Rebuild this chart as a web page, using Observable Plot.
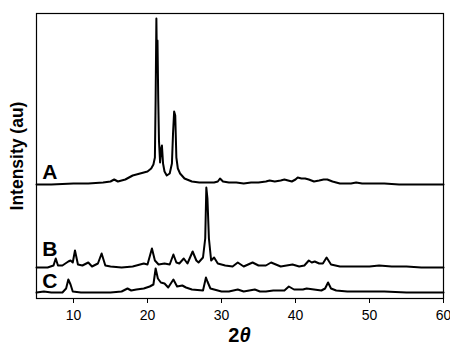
<!DOCTYPE html>
<html>
<head>
<meta charset="utf-8">
<script src="https://cdn.jsdelivr.net/npm/d3@7"></script>
<script src="https://cdn.jsdelivr.net/npm/@observablehq/plot@0.6"></script>
<style>
  html, body { margin: 0; padding: 0; background: #fff; }
  #chart svg { display: block; }
</style>
</head>
<body>
<div id="chart"></div>
<script>
// Series A (2θ, intensity in arbitrary units, offset stack already included)
const thetaA = [5, 7, 10, 12, 14, 15, 15.5, 16, 17, 18, 19, 19.5, 20, 20.5, 20.8, 21.0, 21.1, 21.2, 21.28, 21.35, 21.45, 21.55, 21.7, 21.85, 21.95, 22.1, 22.3, 22.6, 23.0, 23.3, 23.45, 23.6, 23.75, 23.9, 24.1, 24.4, 25, 26, 27, 28, 29, 29.5, 29.8, 30.2, 31, 32, 33, 34, 35, 36, 36.5, 37.2, 38, 38.5, 39, 39.5, 40, 40.3, 40.8, 41.3, 41.8, 42.5, 43.2, 43.8, 44.3, 45, 46, 46.5, 47.5, 48.2, 49, 50, 52, 54, 56, 58, 60];
const valuesA = [114, 114, 115, 115, 116, 117, 119, 117, 119, 123, 125, 126, 127, 130, 134, 141, 200, 280, 230, 258, 200, 158, 136, 150, 153, 135, 127, 123, 125, 135, 165, 187, 183, 141, 130, 125, 120, 117, 116, 116, 116, 117, 120, 117, 116, 116, 115, 116, 116, 117, 118, 117, 118, 119, 118, 117, 119, 121, 120, 120, 119, 117, 118, 119, 119, 117, 115, 115, 115, 116, 115, 115, 115, 114, 114, 114, 114];

// Series B
const thetaB = [5, 6.5, 7.3, 7.6, 7.9, 8.5, 9.3, 9.6, 9.9, 10.2, 10.6, 11.2, 12, 12.5, 13.3, 13.8, 14.3, 15, 16.5, 18, 19.5, 20, 20.6, 21.0, 21.5, 22.3, 23.0, 23.5, 23.9, 24.3, 24.9, 25.4, 26.1, 26.6, 26.9, 27.5, 27.8, 27.95, 28.1, 28.3, 28.6, 29.0, 29.5, 30.5, 31.5, 32.2, 33, 34.2, 35, 36, 36.7, 38, 39.6, 40.5, 41.2, 41.8, 42.2, 42.6, 43.2, 43.7, 44.2, 44.8, 46, 48, 50, 51.3, 53, 55, 57, 60];
const valuesB = [31, 31, 33, 40, 33, 33, 37, 38, 36, 48, 34, 33, 36, 32, 35, 45, 33, 32, 31, 32, 35, 34, 50, 38, 34, 35, 34, 44, 36, 35, 40, 35, 47, 38, 36, 41, 60, 111, 100, 60, 38, 41, 35, 33, 32, 36, 32, 36, 33, 33, 36, 32, 34, 32, 33, 38, 36, 37, 35, 35, 41, 34, 32, 32, 32, 33, 32, 32, 31, 31];

// Series C
const thetaC = [5, 6, 7, 8.5, 9.0, 9.3, 9.6, 9.9, 11, 12, 14, 15, 16.5, 17.3, 17.8, 18.5, 19.5, 20.3, 20.8, 21.1, 21.4, 21.8, 22.3, 22.8, 23.5, 24.0, 24.7, 25.2, 26, 27.5, 27.9, 28.1, 28.5, 30, 31, 32.2, 33, 34.5, 35.2, 36, 37, 38.5, 39.1, 39.8, 41, 41.5, 42.5, 43.5, 44.0, 44.4, 44.8, 45.5, 47, 50, 52, 55, 58, 60];
const valuesC = [6, 7, 6, 6, 10, 19, 14, 7, 6, 6, 6, 6, 7, 10, 8, 9, 10, 12, 14, 30, 20, 16, 15, 11, 19, 12, 13, 11, 9, 8, 21, 17, 10, 7, 7, 9, 7, 9, 7, 7, 8, 8, 12, 9, 9, 10, 9, 8, 10, 16, 10, 8, 7, 7, 7, 6, 6, 6];

// Series labels
const seriesLabels = ["A", "B", "C"];
const labelTheta = [6.8, 6.8, 6.8];
const labelLevel = [126.5, 49.5, 17.5];

// X ticks
const xTicks = [10, 20, 30, 40, 50, 60];

const toRows = (xs, ys, s) => xs.map((x, i) => ({x, y: ys[i], s}));
const rows = [
  ...toRows(thetaA, valuesA, "A"),
  ...toRows(thetaB, valuesB, "B"),
  ...toRows(thetaC, valuesC, "C")
];
const labelRows = seriesLabels.map((t, i) => ({t, x: labelTheta[i], y: labelLevel[i]}));

const chart = Plot.plot({
  width: 450,
  height: 350,
  marginTop: 13,
  marginBottom: 52,
  marginLeft: 36,
  marginRight: 7,
  style: {fontFamily: "Liberation Sans, Arial, sans-serif", background: "#fff", color: "#000", overflow: "hidden"},
  x: {domain: [5, 60], ticks: xTicks, tickSize: 5, tickPadding: 6, label: null, tickFormat: d3.format("d")},
  y: {domain: [0, 285], axis: null},
  marks: [
    Plot.line(rows, {x: "x", y: "y", z: "s", stroke: "#000", strokeWidth: 2, strokeLinejoin: "round"}),
    Plot.frame({stroke: "#000", strokeWidth: 1.2}),
    Plot.axisX({ticks: xTicks, tickSize: 5, tickPadding: 7, fontSize: 14, label: null, tickFormat: d3.format("d")}),
    Plot.text(labelRows, {x: "x", y: "y", text: "t", fontSize: 21, fontWeight: "bold", fill: "#000", lineAnchor: "middle"}),
    Plot.text(["Intensity (au)"], {frameAnchor: "left", textAnchor: "middle", dx: -19, rotate: -90, fontSize: 17.5, fontWeight: "bold", fill: "#000"})
  ]
});

const svg = d3.select(chart);
svg.selectAll("g[aria-label='x-axis tick label'] text").attr("font-size", 14);
const xl = svg.append("text")
  .attr("x", (36 + 443) / 2)
  .attr("y", 342)
  .attr("text-anchor", "middle")
  .attr("font-size", 20)
  .attr("font-weight", "bold")
  .attr("fill", "#000");
xl.append("tspan").text("2");
xl.append("tspan").attr("font-style", "italic").text("θ");

document.getElementById("chart").appendChild(chart);
</script>
</body>
</html>
